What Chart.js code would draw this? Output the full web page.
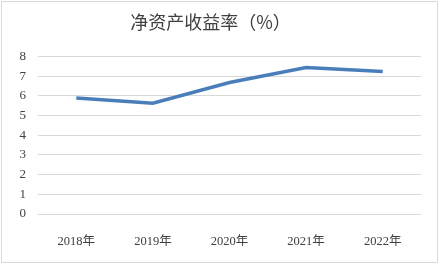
<!DOCTYPE html>
<html>
<head>
<meta charset="utf-8">
<script src="https://cdn.jsdelivr.net/npm/chart.js@4/dist/chart.umd.min.js"></script>
<style>
  html, body { margin: 0; padding: 0; background: #fff; }
  #wrap { position: relative; width: 441px; height: 266px; }
  #frame { position: absolute; left: 1px; top: 1px; width: 435px; height: 260px; border: 1px solid #d9d9d9; }
  canvas { position: absolute; left: 0; top: 0; }
</style>
</head>
<body>
<div id="wrap">
  <div id="frame"></div>
  <canvas id="roeChart" width="441" height="266"></canvas>
</div>
<script>
const years = ["2018年", "2019年", "2020年", "2021年", "2022年"];
const roe = [5.9, 5.63, 6.68, 7.44, 7.24];
const yTicks = [0, 1, 2, 3, 4, 5, 6, 7, 8];

new Chart(document.getElementById("roeChart"), {
    type: "line",
    data: {
        labels: years,
        datasets: [{
            label: "净资产收益率",
            data: roe,
            borderColor: "#4a7ebb",
            borderWidth: 3.5,
            pointRadius: 0,
            tension: 0,
            fill: false
        }]
    },
    options: {
        responsive: false,
        animation: false,
        layout: { padding: { left: 0, right: 20, top: 0, bottom: 0 } },
        plugins: {
            legend: { display: false },
            tooltip: { enabled: false },
            title: {
                display: true,
                text: "净资产收益率（%）",
                color: "#404040",
                font: { family: "'Noto Sans CJK SC'", size: 18, weight: "normal" },
                padding: { top: 11, bottom: 24 }
            }
        },
        scales: {
            x: {
                offset: true,
                grid: { display: false },
                border: { display: false },
                ticks: {
                    color: "#404040",
                    font: { family: "'Liberation Serif', 'Noto Sans CJK SC'", size: 12.5 },
                    padding: 12
                },
                afterFit: s => { s.height = 52; }
            },
            y: {
                min: yTicks[0],
                max: yTicks[yTicks.length - 1],
                afterBuildTicks: s => { s.ticks = yTicks.map(v => ({ value: v })); },
                grid: { color: "#d9d9d9", lineWidth: 1, drawTicks: false },
                border: { display: false },
                ticks: {
                    color: "#404040",
                    font: { family: "'Liberation Serif'", size: 13 },
                    padding: 12
                },
                afterFit: s => { s.width = 38; }
            }
        }
    }
});
</script>
</body>
</html>
